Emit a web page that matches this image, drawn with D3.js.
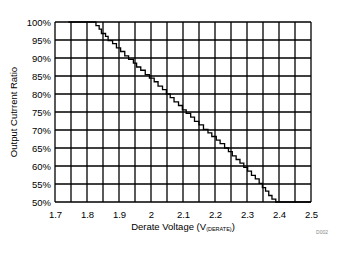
<!DOCTYPE html>
<html>
<head>
<meta charset="utf-8">
<script src="https://cdn.jsdelivr.net/npm/d3@7"></script>
<style>
  body { margin: 0; background: #fff; }
  text { font-family: "Liberation Sans", Arial, sans-serif; fill: #000; }
</style>
</head>
<body>
<script>
// chart size
const w = 343;
const h = 254;
const margin = { top: 22, right: 32, bottom: 52, left: 55 };

// tick labels
const xTicks = [1.7, 1.8, 1.9, 2.0, 2.1, 2.2, 2.3, 2.4, 2.5];
const yTicks = [50, 55, 60, 65, 70, 75, 80, 85, 90, 95, 100];
const xGrid = d3.range(0, 17).map(i => 1.7 + i * 0.05);

// curve readings (V derate, output current %)
const voltage = [1.742, 1.828, 1.838, 1.845, 1.858, 1.866, 1.880, 1.892, 1.905, 1.918,
  1.930, 1.945, 1.955, 1.968, 1.982, 1.995, 2.010, 2.022, 2.036, 2.048,
  2.060, 2.072, 2.086, 2.098, 2.110, 2.124, 2.136, 2.150, 2.164, 2.178,
  2.190, 2.204, 2.216, 2.230, 2.242, 2.254, 2.266, 2.278, 2.290, 2.302,
  2.314, 2.326, 2.338, 2.348, 2.358, 2.368, 2.378, 2.390, 2.500];
const ratio = [100, 99, 98, 96.8, 96, 94.8, 94, 92.8, 91.8, 90.6,
  89.6, 88.6, 87.5, 86.6, 85.4, 84.4, 83.4, 82.2, 81.2, 80.0,
  79.0, 77.8, 76.8, 75.6, 74.6, 73.6, 72.4, 71.4, 70.2, 69.2,
  68.2, 67.2, 66.2, 65.0, 64.0, 62.8, 61.8, 60.8, 59.6, 58.6,
  57.4, 56.4, 55.2, 54.0, 53.0, 51.8, 50.8, 50.0, 50.0];

const data = voltage.map((v, i) => ({ v: v, r: ratio[i] }));

const svg = d3.select("body").append("svg")
  .attr("width", w)
  .attr("height", h);

const x = d3.scaleLinear()
  .domain([1.7, 2.5])
  .range([margin.left, w - margin.right]);

const y = d3.scaleLinear()
  .domain([50, 100])
  .range([h - margin.bottom, margin.top]);

// grid
svg.append("g")
  .selectAll("line")
  .data(xGrid)
  .enter().append("line")
  .attr("x1", d => x(d)).attr("x2", d => x(d))
  .attr("y1", y(50)).attr("y2", y(100))
  .attr("stroke", "#000").attr("stroke-width", 1.3);

svg.append("g")
  .selectAll("line")
  .data(yTicks)
  .enter().append("line")
  .attr("x1", x(1.7)).attr("x2", x(2.5))
  .attr("y1", d => y(d)).attr("y2", d => y(d))
  .attr("stroke", "#000").attr("stroke-width", 1.3);

// axes labels
const xAxis = svg.append("g")
  .attr("transform", "translate(0," + (h - margin.bottom) + ")")
  .call(d3.axisBottom(x).tickValues(xTicks).tickSize(0).tickPadding(9)
    .tickFormat(d => d3.format("")(+d.toFixed(1))));
xAxis.select(".domain").remove();
xAxis.selectAll("text").attr("font-size", 9.5).style("font-family", "Liberation Sans, Arial, sans-serif");

const yAxis = svg.append("g")
  .attr("transform", "translate(" + margin.left + ",0)")
  .call(d3.axisLeft(y).tickValues(yTicks).tickSize(0).tickPadding(4)
    .tickFormat(d => d + "%"));
yAxis.select(".domain").remove();
yAxis.selectAll("text").attr("font-size", 9.5).style("font-family", "Liberation Sans, Arial, sans-serif");

// curve
const line = d3.line()
  .x(d => x(d.v))
  .y(d => y(d.r))
  .curve(d3.curveStepAfter);

svg.append("path")
  .datum(data)
  .attr("d", line)
  .attr("fill", "none")
  .attr("stroke", "#000")
  .attr("stroke-width", 1.3);

// titles
const xt = svg.append("text")
  .attr("x", (x(1.7) + x(2.5)) / 2)
  .attr("y", 230)
  .attr("text-anchor", "middle")
  .attr("font-size", 9.5);
xt.append("tspan").text("Derate Voltage (V");
xt.append("tspan").attr("font-size", 5.5).attr("dy", 1).text("(DERATE)");
xt.append("tspan").attr("dy", -1).text(")");

svg.append("text")
  .attr("transform", "translate(17," + ((y(50) + y(100)) / 2) + ") rotate(-90)")
  .attr("text-anchor", "middle")
  .attr("font-size", 9.5)
  .text("Output Cutrrent Ratio");

svg.append("text")
  .attr("x", 322)
  .attr("y", 234)
  .attr("text-anchor", "middle")
  .attr("font-size", 5)
  .style("fill", "#888")
  .text("D002");
</script>
</body>
</html>
